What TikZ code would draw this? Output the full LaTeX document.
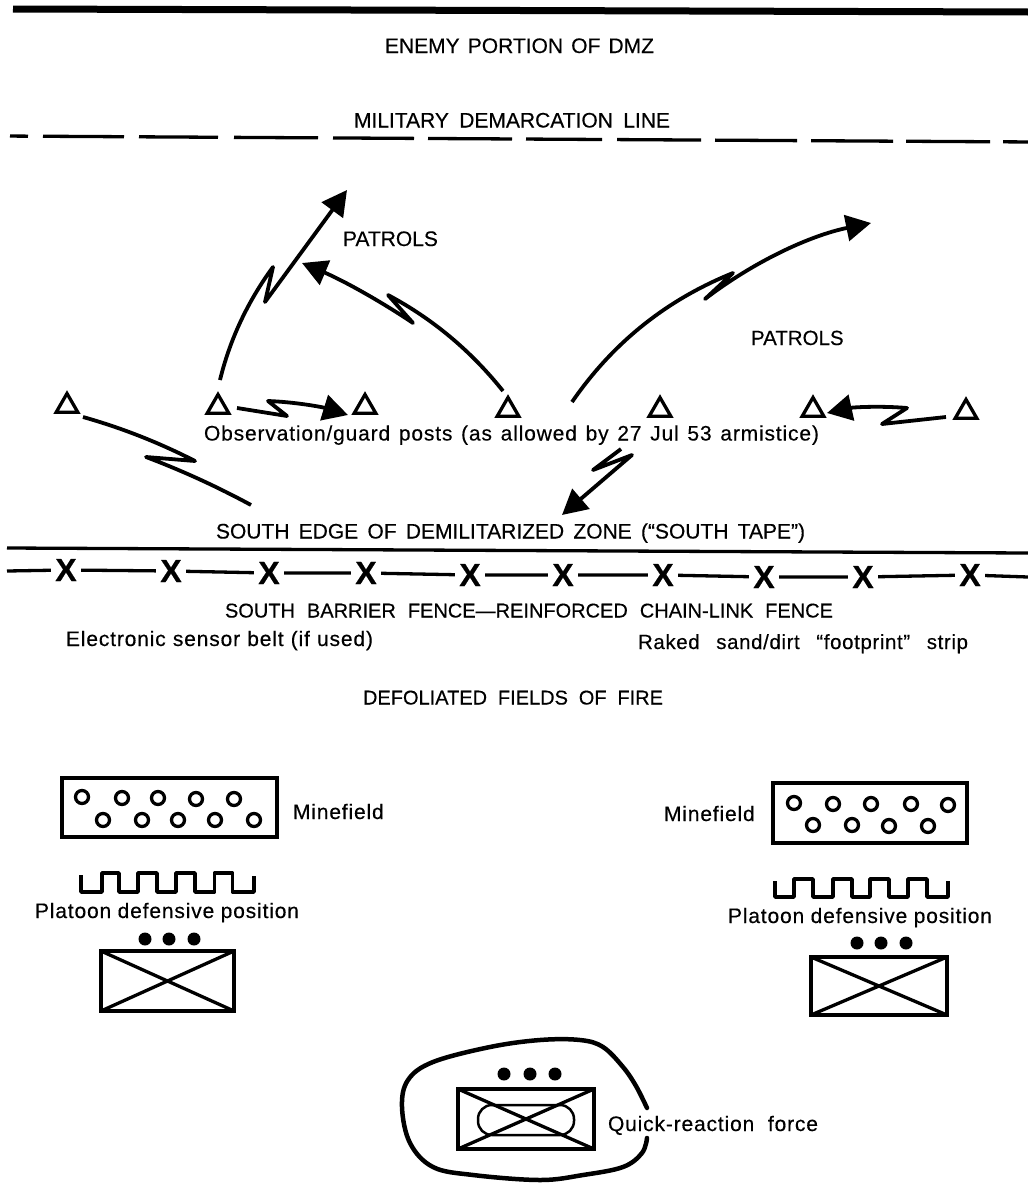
\documentclass[tikz,border=0pt]{standalone}
\usepackage{fontspec}
\setmainfont{Liberation Sans}
\usetikzlibrary{arrows.meta,shapes.geometric}
\newcommand{\fitline}[2]{\hbox to #1pt{\spaceskip=0.2em plus 1fil\relax #2}}
\tikzset{
  lab/.style={anchor=base west,inner sep=0pt,outer sep=0pt,font=\fontsize{21}{24}\selectfont\addfontfeature{FakeBold=0.35}},
  labs/.style={lab,font=\fontsize{20}{24}\selectfont\addfontfeature{FakeBold=0.35}},
  labsp/.style={lab,font=\fontsize{21}{24}\selectfont\addfontfeature{LetterSpace=4,FakeBold=0.35}},
  labrk/.style={lab,font=\fontsize{20.5}{24}\selectfont\addfontfeature{LetterSpace=3,FakeBold=0.35}},
  post/.style={regular polygon,regular polygon sides=3,draw,line width=3.3pt,minimum size=25pt,inner sep=0pt,outer sep=0pt},
  bolt/.style={line width=3.8pt,line join=round,line cap=butt},
  boltarrow/.style={bolt,-{Triangle[length=25pt,width=26pt]}},
  wire/.style={line width=3.3pt},
  fencex/.style={font=\fontsize{32}{32}\selectfont\bfseries\addfontfeature{FakeBold=0.6},inner sep=4.5pt,outer sep=0pt},
  mine/.style={circle,draw,line width=3.3pt,minimum size=13pt,inner sep=0pt,outer sep=0pt},
  fieldbox/.style={rectangle,draw,line width=3.5pt,inner sep=0pt,outer sep=0pt},
  dot/.style={circle,fill=black,minimum size=13pt,inner sep=0pt,outer sep=0pt},
  wave/.style={line width=3.5pt,line join=round},
}
\begin{document}
\begin{tikzpicture}[x=1pt,y=-1pt]
\useasboundingbox (0,0) rectangle (1028,1186);
\fill[white] (0,0) rectangle (1028,1186);

% top bar and demarcation line
\draw[line width=7pt] (13,9) -- (1028,12);
\foreach \a/\b in {10/28,43/124,139/218,234/318,333/414,428/512,526/602,617/701,715/797,811/893,906/990,1003/1028}
  \draw[line width=3.3pt] (\a,{136+0.0058*\a}) -- (\b,{136+0.0058*\b});

% labels
\node[lab] (enemy) at (385,53) {\fitline{269}{ENEMY PORTION OF DMZ}};
\node[lab] (mdl) at (354,127.5) {\fitline{316}{MILITARY DEMARCATION LINE}};
\node[lab] (pat1) at (343,246) {PATROLS};
\node[lab,font=\fontsize{20.5}{24}\selectfont\addfontfeature{FakeBold=0.35}] (pat2) at (751,345) {PATROLS};
\node[labsp] (obs) at (204,440.5) {\fitline{615}{Observation/guard posts (as allowed by 27 Jul 53 armistice)}};
\node[lab] (south) at (216,538.5) {\fitline{589}{SOUTH EDGE OF DEMILITARIZED ZONE (“SOUTH TAPE”)}};
\node[labs] (barrier) at (225,617.5) {\fitline{608}{SOUTH BARRIER FENCE—REINFORCED CHAIN-LINK FENCE}};
\node[labsp] (sensor) at (66,646) {\fitline{307}{Electronic sensor belt (if used)}};
\node[labrk] (raked) at (638,649) {\fitline{330}{Raked sand/dirt “footprint” strip}};
\node[labs] (defol) at (363,704.5) {\fitline{300}{DEFOLIATED FIELDS OF FIRE}};
\node[labsp] (mfl) at (293,819) {Minefield};
\node[labsp] (mfr) at (664,821) {Minefield};
\node[labsp] (ptl) at (35,918) {\fitline{264}{Platoon defensive position}};
\node[labsp] (ptr) at (728,923) {\fitline{264}{Platoon defensive position}};
\node[labsp] (qrf) at (608,1131) {\fitline{210}{Quick-reaction force}};

% observation posts
\node[post] (t1) at (67,406) {};
\node[post] (t2) at (218,407) {};
\node[post] (t3) at (365,407) {};
\node[post] (t4) at (508,410) {};
\node[post] (t5) at (660,410) {};
\node[post] (t6) at (813,410) {};
\node[post] (t7) at (966,412) {};

% patrol bolts
\coordinate (a0) at (220,380); \coordinate (a1) at (273,267); \coordinate (a2) at (265,302); \coordinate (a3) at (347,190);
\draw[boltarrow] (a0) .. controls (230,339) and (248,301) .. (a1) -- (a2) -- (a3);
\coordinate (b0) at (503,391); \coordinate (b1) at (388,295); \coordinate (b2) at (413,323); \coordinate (b3) at (302,263);
\draw[boltarrow] (b0) .. controls (471,351) and (433,319) .. (b1) -- (b2) .. controls (378,299.5) and (341,279.5) .. (b3);
\coordinate (c0) at (237,408); \coordinate (c1) at (287,416); \coordinate (c2) at (268,401); \coordinate (c3) at (348,415);
\draw[boltarrow] (c0) -- (c1) -- (c2) .. controls (295,402) and (322,407) .. (c3);
\coordinate (d0) at (83,417); \coordinate (d1) at (195,461); \coordinate (d2) at (146,457); \coordinate (d3) at (251,505);
\draw[bolt] (d0) .. controls (122,428) and (159,442.6) .. (d1) -- (d2) .. controls (182,470.6) and (217,486.6) .. (d3);
\coordinate (e0) at (572,402); \coordinate (e1) at (733,273); \coordinate (e2) at (705,299); \coordinate (e3) at (871,223);
\draw[boltarrow] (e0) .. controls (612.7,343) and (666,300) .. (e1) -- (e2) .. controls (754,261.5) and (810,235.5) .. (e3);
\coordinate (f0) at (946,417); \coordinate (f1) at (882,424); \coordinate (f2) at (907,408); \coordinate (f3) at (827,413);
\draw[boltarrow] (f0) -- (f1) -- (f2) .. controls (880,405.7) and (853,407.3) .. (f3);
\coordinate (g0) at (621,449); \coordinate (g1) at (593,470); \coordinate (g2) at (632,455); \coordinate (g3) at (562,515);
\draw[boltarrow] (g0) -- (g1) -- (g2) -- (g3);

% south tape
\draw[line width=3.3pt] (7,548) -- (1028,553);

% fence
\coordinate (fl) at (7,571); \coordinate (fr) at (1028,577);
\node[fencex] (x1) at (66,570) {X};
\node[fencex] (x2) at (171,571) {X};
\node[fencex] (x3) at (269,573) {X};
\node[fencex] (x4) at (366,573) {X};
\node[fencex] (x5) at (470,575) {X};
\node[fencex] (x6) at (563,575) {X};
\node[fencex] (x7) at (663,575) {X};
\node[fencex] (x8) at (764,577) {X};
\node[fencex] (x9) at (863,577) {X};
\node[fencex] (x10) at (970,575) {X};
\draw[wire] (fl) -- (x1) (x1) -- (x2) (x2) -- (x3) (x3) -- (x4) (x4) -- (x5) (x5) -- (x6) (x6) -- (x7) (x7) -- (x8) (x8) -- (x9) (x9) -- (x10) (x10) -- (fr);

% minefield left
\node[fieldbox,minimum width=215pt,minimum height=59pt] (ml) at (169.5,807.5) {};
\foreach \p [count=\i] in {(82,797),(122,798),(158,798),(196,799),(234,799),(103,820),(142,820),(178,820),(215,820),(254,820)}
  \node[mine] (ml\i) at \p {};
% minefield right
\node[fieldbox,minimum width=194pt,minimum height=60pt] (mr) at (870,813) {};
\foreach \p [count=\i] in {(794,803),(833,804),(871,804),(911,804),(948,805),(813,825),(852,825),(889,826),(928,826)}
  \node[mine] (mr\i) at \p {};

% platoon obstacle lines
\draw[wave] (81,875) |- (102,892) |- (119,873) |- (138,892) |- (157,873) |- (176,892) |- (195,873) |- (214.5,892) |- (232.5,873) -- (232.5,892) -- (254,892) -- (254,876);
\draw[wave] (775,881) |- (794,897) |- (813,879) |- (833,897) |- (852,879) |- (870,897) |- (889,879) |- (908,897) |- (927,879) -- (927,897) -- (948,897) -- (948,881);

% platoon units
\foreach \p [count=\i] in {(145,939),(169,939),(194,939)} \node[dot] (dl\i) at \p {};
\node[fieldbox,minimum width=133pt,minimum height=60pt] (ul) at (167.5,981) {};
\draw[wire] (ul.north west) -- (ul.south east) (ul.north east) -- (ul.south west);
\foreach \p [count=\i] in {(857,943),(881,943),(906,943)} \node[dot] (dr\i) at \p {};
\node[fieldbox,minimum width=136pt,minimum height=58pt] (ur) at (879,986) {};
\draw[wire] (ur.north west) -- (ur.south east) (ur.north east) -- (ur.south west);

% quick-reaction force
\foreach \p [count=\i] in {(504,1074),(530,1074),(555,1074)} \node[dot] (dq\i) at \p {};
\node[fieldbox,minimum width=136pt,minimum height=60pt] (uq) at (526,1119) {};
\node[rectangle,draw,line width=2.5pt,rounded corners=14pt,minimum width=96pt,minimum height=30pt,inner sep=0pt] (oval) at (526,1120) {};
\draw[wire] (uq.north west) -- (uq.south east) (uq.north east) -- (uq.south west);
\draw[line width=4.5pt,line cap=round] plot[smooth,tension=0.6] coordinates {(647,1108) (636,1086) (623,1067) (603,1047) (580,1040) (540,1040) (490,1047) (433,1062) (408,1080) (402,1107) (410,1143) (433,1167) (473,1175) (540,1180) (583,1175) (623,1167) (642,1153) (647,1138)};
\end{tikzpicture}
\end{document}
